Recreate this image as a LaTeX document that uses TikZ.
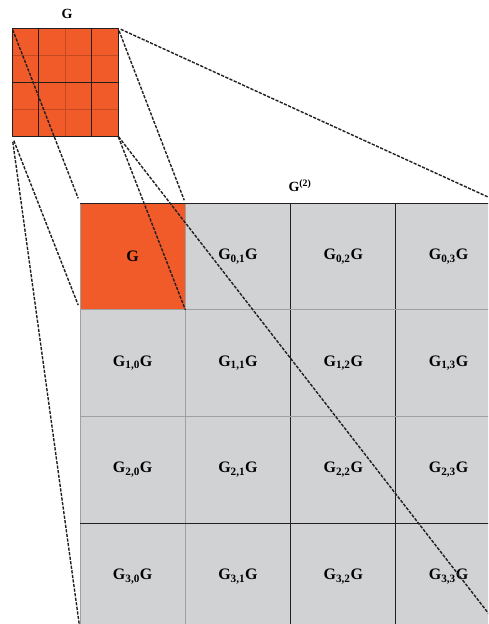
\documentclass[tikz,border=0pt]{standalone}
\usepackage{fontspec}
\setmainfont{Liberation Serif}
\definecolor{gorange}{RGB}{241,90,41}
\definecolor{gorangeline}{RGB}{196,74,34}
\definecolor{cellgray}{RGB}{209,210,212}
\definecolor{linegray}{RGB}{160,160,162}
\definecolor{linedark}{RGB}{35,31,32}
\tikzset{
  cellbox/.style={fill=cellgray, draw=none, inner sep=0pt, outer sep=0pt,
    minimum width=105.3pt, minimum height=106.7pt, font=\bfseries\fontsize{16}{18}\selectfont},
  smallbox/.style={fill=gorange, draw=none, inner sep=0pt, outer sep=0pt,
    minimum width=106pt, minimum height=108pt},
  lightrule/.style={draw=linegray, line width=0.8pt},
  darkrule/.style={draw=linedark, line width=1pt},
  orule/.style={draw=gorangeline, line width=0.7pt},
  proj/.style={draw=linedark, line width=1.4pt, dash pattern=on 3.2pt off 1.4pt},
  titletext/.style={font=\bfseries\fontsize{14}{16}\selectfont, inner sep=0pt}
}
\begin{document}
\begin{tikzpicture}[x=1pt,y=-1pt]
\useasboundingbox (0,0) rectangle (488,624);
\clip (0,0) rectangle (488,624);
% big grid cells
\node[cellbox, fill=gorange] (c-0-0) at (132.65,256.35) {G};
\foreach \i in {0,...,3}{
  \foreach \j in {0,...,3}{
    \pgfmathtruncatemacro{\k}{\i*4+\j}
    \pgfmathsetmacro{\cx}{80+52.65+\j*105.3}
    \pgfmathsetmacro{\cy}{203+53.35+\i*106.7}
    \ifnum\k>0
      \node[cellbox] (c-\i-\j) at (\cx,\cy) {G\textsubscript{\i,\j}G};
    \fi
  }
}
% grid rules of big grid
\draw[lightrule] (c-0-0.north west) -- (c-3-0.south west);
\draw[lightrule] (c-0-1.north west) -- (c-3-1.south west);
\draw[darkrule] (c-0-2.north west) -- (c-3-2.south west);
\draw[darkrule] (c-0-3.north west) -- (c-3-3.south west);
\draw[lightrule] (c-1-0.north west) -- (c-1-3.north east);
\draw[lightrule] (c-2-0.north west) -- (c-2-3.north east);
\draw[darkrule] (c-3-0.north west) -- (c-3-3.north east);
\draw[darkrule] (c-0-0.north west) -- (c-0-3.north east);
% small grid
\node[smallbox] (small) at (65,82) {};
\draw[orule] (65,28) -- (65,136);
\draw[orule] (12,55) -- (118,55);
\draw[orule] (12,109) -- (118,109);
\draw[darkrule] (38.5,28) -- (38.5,136);
\draw[darkrule] (91.5,28) -- (91.5,136);
\draw[darkrule] (12,82) -- (118,82);
\draw[darkrule] (small.north west) rectangle (small.south east);
% titles
\node[titletext] (tg) at (67,14) {G};
\node[titletext] (tg2) at (300,186) {G\textsuperscript{(2)}};
% projection lines
\draw[proj, shorten <=2pt, shorten >=5pt] (small.north west) -- (c-0-0.north west);
\draw[proj, shorten <=3pt, shorten >=3pt] (small.north east) -- (c-0-0.north east);
\draw[proj, shorten <=5pt, shorten >=5pt] (small.south west) -- (c-0-0.south west);
\draw[proj, shorten <=1pt] (small.south east) -- (c-0-0.south east);
\draw[proj, shorten <=3pt] (small.north east) -- (c-0-3.north east);
\draw[proj, shorten <=6pt] (small.south west) -- (c-3-0.south west);
\draw[proj, shorten <=1pt] (small.south east) -- (c-3-3.south east);
\end{tikzpicture}
\end{document}
